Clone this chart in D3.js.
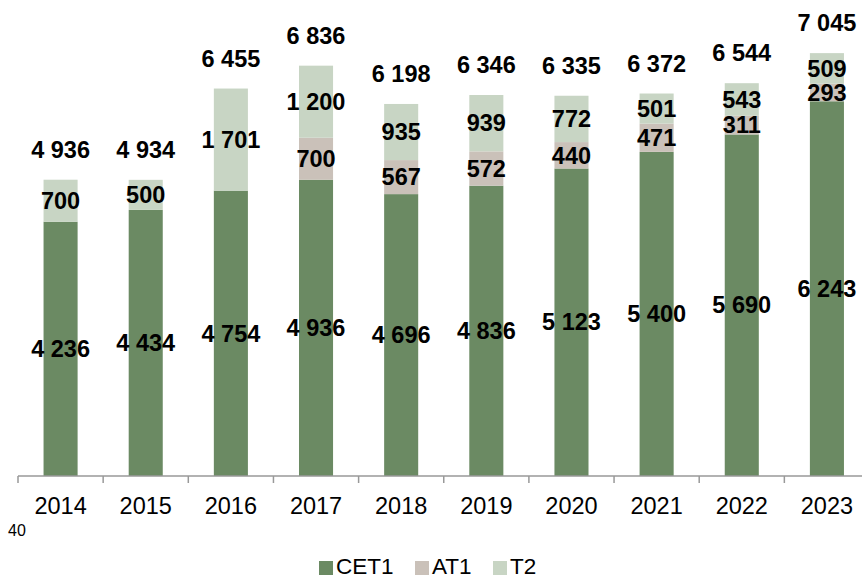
<!DOCTYPE html>
<html><head><meta charset="utf-8">
<script src="https://cdn.jsdelivr.net/npm/d3@7"></script>
<style>body{margin:0;background:#fff;}svg{display:block;font-family:"Liberation Sans",Arial,sans-serif;}</style>
</head><body><svg id="c" width="862" height="579"></svg>
<script>
const years = ["2014","2015","2016","2017","2018","2019","2020","2021","2022","2023"];
const cet1 = [4236,4434,4754,4936,4696,4836,5123,5400,5690,6243];
const at1  = [0,0,0,700,567,572,440,471,311,293];
const t2   = [700,500,1701,1200,935,939,772,501,543,509];
const totals = [4936,4934,6455,6836,6198,6346,6335,6372,6544,7045];
const seriesNames = ["CET1","AT1","T2"];
const colors = ["#6b8a63","#cac1b9","#c8d5c4"];

const fmt = v => d3.format(",")(v).replace(/,/g," ");
const svg = d3.select("#c");
const x = d3.scaleBand().domain(years).range([18, 18+851.5]).paddingInner(0.6).paddingOuter(0.3);
const y = d3.scaleLinear().domain([0,7930]).range([476,0]);
const step = x.step();

const rows = years.map((yr,i)=>({year:yr, CET1:cet1[i], AT1:at1[i], T2:t2[i], total:totals[i]}));
const stack = d3.stack().keys(seriesNames)(rows);

const g = svg.append("g");
stack.forEach((s,si)=>{
  g.selectAll(null).data(s).enter().append("rect")
    .attr("x", d=>x(d.data.year)).attr("width", x.bandwidth())
    .attr("y", d=>y(d[1])).attr("height", d=>y(d[0])-y(d[1]))
    .attr("fill", colors[si]);
});
const LBL = 23.5;
// segment labels
stack.forEach((s,si)=>{
  g.selectAll(null).data(s.filter(d=>d[1]-d[0]>0)).enter().append("text")
    .attr("x", d=>x(d.data.year)+x.bandwidth()/2)
    .attr("y", d=>y((d[0]+d[1])/2))
    .attr("dy","0.35em").attr("text-anchor","middle")
    .attr("font-size",LBL).attr("font-weight","bold").attr("fill","#000")
    .text(d=>fmt(d[1]-d[0]));
});
// totals
g.selectAll(null).data(rows).enter().append("text")
  .attr("x", d=>x(d.year)+x.bandwidth()/2)
  .attr("y", d=>y(d.total)-30)
  .attr("dy","0.35em").attr("text-anchor","middle")
  .attr("font-size",LBL).attr("font-weight","bold").attr("fill","#000")
  .text(d=>fmt(d.total));

// axis
const ax = svg.append("g").attr("transform","translate(0,476)");
ax.append("line").attr("x1",18).attr("x2",18+851.5).attr("y1",0).attr("y2",0).attr("stroke","#999").attr("stroke-width",1.5);
const bounds = years.map(d=>x(d)-step*0.3).concat([x(years[years.length-1])+x.bandwidth()+step*0.3]);
ax.selectAll(null).data(bounds).enter().append("line")
  .attr("x1",d=>d).attr("x2",d=>d).attr("y1",0).attr("y2",7).attr("stroke","#999").attr("stroke-width",1.5);
const axB = d3.axisBottom(x).tickSize(0).tickPadding(0);
const axg = svg.append("g").attr("transform","translate(0,476)").call(axB);
axg.select(".domain").remove();
axg.selectAll("text").attr("font-size",23.5).attr("fill","#000").attr("font-family","Liberation Sans, Arial, sans-serif")
  .attr("y",30).attr("dy","0.35em");

svg.append("text").attr("x",8).attr("y",530).attr("dy","0.35em").attr("font-size",16).attr("fill","#000").text("40");

// legend
const legX = [319,415,493];
const lg = svg.append("g");
seriesNames.forEach((n,i)=>{
  lg.append("rect").attr("x",legX[i]).attr("y",561).attr("width",14).attr("height",14).attr("fill",colors[i]);
  lg.append("text").attr("x",legX[i]+17).attr("y",566).attr("dy","0.35em").attr("font-size",22.5).attr("fill","#000").text(n);
});
</script></body></html>
